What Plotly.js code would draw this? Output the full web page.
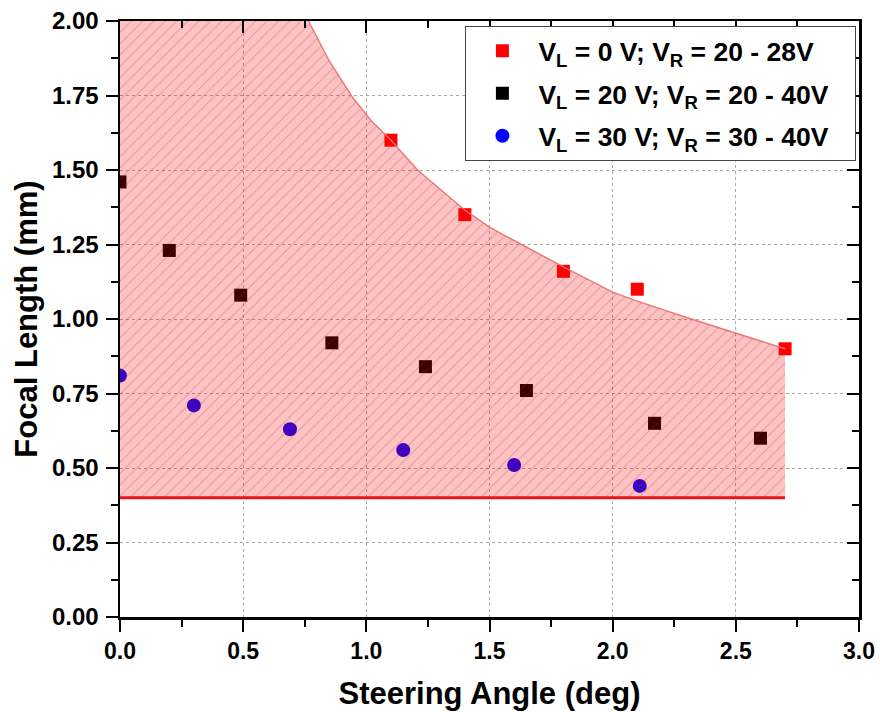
<!DOCTYPE html>
<html><head><meta charset="utf-8">
<script src="https://cdn.plot.ly/plotly-3.0.1.min.js"></script>
<style>body{margin:0;background:#fff}</style>
</head><body><div id="chart" style="width:880px;height:712px"></div>
<script>
// Series data
const redX = [1.10, 1.40, 1.80, 2.10, 2.70];
const redY = [1.60, 1.35, 1.16, 1.10, 0.90];
const blackX = [0, 0.20, 0.49, 0.86, 1.24, 1.65, 2.17, 2.60];
const blackY = [1.46, 1.23, 1.08, 0.92, 0.84, 0.76, 0.65, 0.60];
const blueX = [0, 0.30, 0.69, 1.15, 1.60, 2.11];
const blueY = [0.81, 0.71, 0.63, 0.56, 0.51, 0.44];
// Upper edge of the shaded region
const edgeX = [0.765, 0.85, 0.943, 1.02, 1.10, 1.208, 1.40, 1.50, 1.63, 1.80, 2.00, 2.10, 2.30, 2.50, 2.70];
const edgeY = [2.00, 1.865, 1.745, 1.665, 1.60, 1.50, 1.365, 1.308, 1.25, 1.175, 1.09, 1.06, 1.005, 0.952, 0.90];
// Region corners and floor line
const regionLeft = 0, regionRight = 2.70, regionTop = 2.00, floorY = 0.40;
const floorX = [0, 2.70];
const seriesNames = [
  'V<sub>L</sub> = 0 V; V<sub>R</sub> = 20 - 28V',
  'V<sub>L</sub> = 20 V; V<sub>R</sub> = 20 - 40V',
  'V<sub>L</sub> = 30 V; V<sub>R</sub> = 30 - 40V'
];
const xTickVals = [0, 0.5, 1.0, 1.5, 2.0, 2.5, 3.0];
const xTickText = ['0.0', '0.5', '1.0', '1.5', '2.0', '2.5', '3.0'];
const yTickVals = [0, 0.25, 0.5, 0.75, 1.0, 1.25, 1.5, 1.75, 2.0];
const yTickText = ['0.00', '0.25', '0.50', '0.75', '1.00', '1.25', '1.50', '1.75', '2.00'];

const FONT = 'Liberation Sans, Arial, sans-serif';
const PAD = '\u00a0\u00a0\u00a0';
const NB = '\u00a0\u00a0';

const polyX = [regionLeft, regionLeft].concat(edgeX, [regionRight, regionLeft]);
const polyY = [floorY, regionTop].concat(edgeY, [floorY, floorY]);

const traces = [
  {x: redX, y: redY, type: 'scatter', mode: 'markers', name: seriesNames[0] + PAD, legendgroup: 'a',
   marker: {symbol: 'square', size: 13, color: '#FF0000'}},
  {x: blackX, y: blackY, type: 'scatter', mode: 'markers', name: seriesNames[1] + PAD, legendgroup: 'b',
   marker: {symbol: 'square', size: 13, color: '#000000'}},
  {x: blueX, y: blueY, type: 'scatter', mode: 'markers', name: seriesNames[2] + PAD, legendgroup: 'c',
   marker: {symbol: 'circle', size: 14, color: '#0000FF'}},
  {x: polyX, y: polyY, type: 'scatter', mode: 'lines', fill: 'toself', showlegend: false,
   hoverinfo: 'skip', line: {width: 0, color: 'rgba(0,0,0,0)'},
   fillcolor: 'rgba(255,0,0,0.24)',
   fillpattern: {shape: '/', bgcolor: 'rgba(255,0,0,0.24)', fgcolor: 'rgb(130,50,50)', fgopacity: 0.28, size: 8, solidity: 0.13}},
  {x: edgeX, y: edgeY, type: 'scatter', mode: 'lines', showlegend: false, hoverinfo: 'skip',
   line: {color: 'rgba(235,110,110,0.9)', width: 1.5}},
  {x: floorX, y: [floorY, floorY], type: 'scatter', mode: 'lines', showlegend: false, hoverinfo: 'skip',
   line: {color: '#E3141E', width: 3}},
  {x: [], y: [], xaxis: 'x2', yaxis: 'y2', type: 'scatter', mode: 'markers', showlegend: false, hoverinfo: 'skip'}
];

const tickFont = {family: FONT, size: 24, color: '#000', weight: 'bold'};
const xTickFont = {family: FONT, size: 23, color: '#000', weight: 'bold'};
const titleFont = {family: FONT, size: 31, color: '#000', weight: 'bold'};

const layout = {
  width: 880, height: 712,
  margin: {l: 120, r: 21, t: 21, b: 95},
  paper_bgcolor: '#fff', plot_bgcolor: '#fff',
  showlegend: true,
  legend: {x: 0.9965, xanchor: 'right', y: 0.9915, yanchor: 'top',
    bordercolor: '#444', borderwidth: 1, bgcolor: '#fff',
    font: {family: FONT, size: 26.5, color: '#000', weight: 'bold'},
    itemwidth: 62, tracegroupgap: 5, traceorder: 'grouped'},
  xaxis: {range: [0, 3], tickvals: xTickVals, ticktext: xTickText,
    ticks: 'outside', ticklen: 12, tickwidth: 2, tickcolor: '#000',
    minor: {dtick: 0.25, ticks: 'outside', ticklen: 7, tickwidth: 2, tickcolor: '#000', showgrid: false},
    showline: true, linewidth: 2.5, linecolor: '#000', zeroline: false,
    showgrid: true, gridcolor: '#aaaaaa', griddash: 'dot', gridwidth: 1,
    tickfont: xTickFont, ticklabelstandoff: 0,
    title: {text: 'Steering Angle (deg)', font: titleFont, standoff: 19}},
  yaxis: {range: [0, 2], tickvals: yTickVals, ticktext: yTickText,
    ticks: 'outside', ticklen: 12, tickwidth: 2, tickcolor: '#000',
    minor: {dtick: 0.125, ticks: 'outside', ticklen: 7, tickwidth: 2, tickcolor: '#000', showgrid: false},
    showline: true, linewidth: 2.5, linecolor: '#000', zeroline: false,
    showgrid: true, gridcolor: '#aaaaaa', griddash: 'dot', gridwidth: 1,
    tickfont: tickFont, ticklabelstandoff: 2,
    title: {text: NB + 'Focal Length (mm)', font: titleFont, standoff: 5}},
  xaxis2: {overlaying: 'x', side: 'top', anchor: 'y2', range: [0, 3], dtick: 0.5, tick0: 0,
    ticks: 'inside', ticklen: 12, tickwidth: 2, tickcolor: '#000',
    minor: {dtick: 0.25, ticks: 'inside', ticklen: 7, tickwidth: 2, tickcolor: '#000', showgrid: false},
    showticklabels: false, showgrid: false, zeroline: false,
    showline: true, linewidth: 2.5, linecolor: '#000'},
  yaxis2: {overlaying: 'y', side: 'right', anchor: 'x2', range: [0, 2], dtick: 0.25, tick0: 0,
    ticks: 'inside', ticklen: 12, tickwidth: 2, tickcolor: '#000',
    minor: {dtick: 0.125, ticks: 'inside', ticklen: 7, tickwidth: 2, tickcolor: '#000', showgrid: false},
    showticklabels: false, showgrid: false, zeroline: false,
    showline: true, linewidth: 2.5, linecolor: '#000'}
};

Plotly.newPlot('chart', traces, layout, {displayModeBar: false, staticPlot: true});
</script>
</body></html>
